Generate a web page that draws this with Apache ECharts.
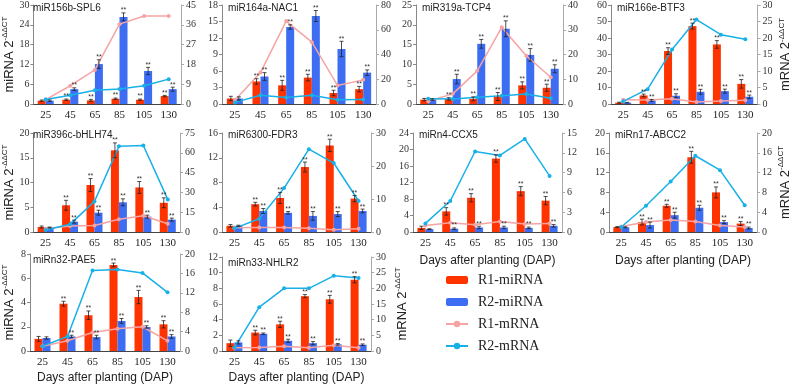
<!DOCTYPE html>
<html>
<head>
<meta charset="utf-8">
<script src="https://cdn.jsdelivr.net/npm/echarts@6/dist/echarts.min.js"></script>
<style>
  html, body { margin: 0; padding: 0; background: #fff; }
  #chart { width: 793px; height: 385px; }
</style>
</head>
<body>
<div id="chart"></div>
<script>
// x categories (days after planting)
var days = ['25', '45', '65', '85', '105', '130'];
var panelNames = ['miR156b-SPL6', 'miR164a-NAC1', 'miR319a-TCP4', 'miR166e-BTF3',
  'miR396c-bHLH74', 'miR6300-FDR3', 'miRn4-CCX5', 'miRn17-ABCC2',
  'miRn32-PAE5', 'miRn33-NHLR2'];

// bars, left axis (miRNA 2^-ddCT)
var r1MiRNA = [
  [1.0, 1.3, 1.1, 1.6, 1.3, 2.4],
  [1.0, 4.1, 3.4, 4.8, 2.0, 2.7],
  [1.1, 1.3, 1.3, 1.9, 4.7, 4.1],
  [0.8, 5.2, 32.1, 47.2, 36.1, 12.2],
  [1.0, 5.4, 9.5, 16.5, 9.0, 5.9],
  [1.0, 4.5, 5.5, 10.5, 14.0, 5.4],
  [1.0, 5.0, 8.3, 17.8, 9.9, 7.6],
  [1.0, 2.0, 5.3, 15.1, 8.0, 1.7],
  [1.0, 3.9, 2.95, 7.1, 4.45, 2.2],
  [1.0, 2.35, 3.4, 7.0, 6.6, 9.1]
];
var r2MiRNA = [
  [1.0, 4.5, 12.1, 26.4, 10.0, 4.5],
  [1.0, 5.0, 14.0, 16.0, 10.0, 5.7],
  [1.1, 6.3, 15.2, 19.0, 12.4, 8.9],
  [0.8, 2.2, 5.0, 7.4, 7.8, 4.4],
  [0.9, 2.1, 3.9, 6.0, 3.1, 2.5],
  [1.0, 3.4, 3.1, 2.6, 2.9, 3.4],
  [0.7, 0.8, 1.1, 1.1, 1.0, 1.5],
  [0.95, 1.4, 3.4, 4.9, 2.0, 0.8],
  [1.07, 1.2, 1.15, 2.48, 1.98, 1.2],
  [1.1, 2.2, 1.3, 1.0, 0.85, 0.8]
];
// error bars of the bars (estimated)
var r1Err = [
  [0.2, 0.2, 0.3, 0.2, 0.2, 0.2],
  [0.4, 0.5, 0.9, 0.6, 0.5, 0.5],
  [0.3, 0.3, 0.5, 1.0, 0.9, 0.9],
  [0.3, 0.8, 2.0, 1.8, 2.3, 2.6],
  [0.2, 1.0, 1.3, 1.5, 1.2, 1.0],
  [0.2, 0.3, 0.9, 0.8, 1.0, 0.5],
  [0.4, 0.9, 1.0, 0.9, 1.1, 1.0],
  [0.1, 0.6, 0.3, 1.2, 1.1, 0.4],
  [0.2, 0.2, 0.35, 0.15, 0.55, 0.3],
  [0.4, 0.3, 0.4, 0.2, 0.5, 0.4]
];
var r2Err = [
  [0.2, 0.4, 1.3, 1.2, 1.1, 0.6],
  [0.3, 0.7, 0.4, 1.0, 1.4, 0.5],
  [0.2, 1.2, 1.1, 2.0, 1.6, 1.0],
  [0.2, 0.6, 1.2, 1.5, 1.2, 1.0],
  [0.1, 0.3, 0.5, 0.7, 0.3, 0.3],
  [0.1, 0.4, 0.2, 0.7, 0.4, 0.3],
  [0.1, 0.2, 0.3, 0.3, 0.2, 0.3],
  [0.1, 0.6, 0.6, 0.5, 0.3, 0.2],
  [0.1, 0.1, 0.15, 0.2, 0.1, 0.15],
  [0.2, 0.1, 0.2, 0.2, 0.1, 0.1]
];
// lines, right axis (mRNA 2^-ddCT)
var r1MRNA = [
  [2.0, 8.3, 15.5, 36.3, 40.0, 40.0],
  [3.0, 25.4, 67.0, 50.0, 15.0, 19.5],
  [1.1, 4.1, 13.4, 31.0, 19.5, 10.8],
  [1.3, 1.2, 1.6, 0.6, 0.9, 1.1],
  [2.5, 4.5, 5.0, 9.6, 12.3, 6.3],
  [1.3, 1.4, 1.4, 1.1, 0.7, 1.0],
  [1.0, 1.4, 1.1, 1.6, 1.2, 1.3],
  [1.1, 2.0, 2.4, 2.1, 1.3, 1.0],
  [1.0, 2.1, 3.8, 4.6, 5.0, 2.1],
  [1.0, 1.1, 1.5, 1.0, 1.8, 1.0]
];
var r2MRNA = [
  [2.0, 4.0, 6.2, 6.8, 8.3, 11.3],
  [1.3, 7.0, 5.3, 7.0, 3.5, 3.7],
  [2.1, 2.0, 2.7, 3.3, 4.0, 2.3],
  [0.8, 4.5, 16.5, 25.6, 21.0, 19.6],
  [1.5, 5.8, 23.2, 65.0, 65.5, 24.7],
  [1.1, 4.0, 13.3, 25.1, 20.9, 9.4],
  [1.3, 4.7, 12.2, 11.6, 14.1, 8.5],
  [1.0, 5.3, 10.2, 15.4, 12.5, 5.4],
  [1.0, 3.0, 16.6, 16.8, 16.1, 12.1],
  [1.1, 14.0, 20.0, 20.0, 24.0, 23.3]
];
// axis scales
var leftMax = [30, 18, 25, 60, 20, 16, 24, 20, 8, 12];
var leftStep = [6, 3, 5, 10, 5, 4, 4, 4, 2, 2];
var rightMax = [45, 80, 40, 30, 75, 30, 15, 20, 20, 30];
var rightStep = [9, 20, 10, 5, 15, 10, 3, 4, 4, 5];

// panel rectangles [left, top, width, height]
var rects = [
  [27, 5, 154, 99], [222, 5, 154, 99], [416, 5, 147, 99], [611, 5, 147, 99],
  [27, 133, 153, 99], [222, 133, 149, 99], [413, 133, 149, 99], [609, 133, 148, 99],
  [27, 254, 153, 103], [222, 257, 149, 100]
];
var leftNamed = [0, 4, 8];
var rightNamed = [3, 7, 9];
var xNamed = [6, 7, 8, 9];

var serif = '"Liberation Serif", "Times New Roman", serif';
var sans = '"Liberation Sans", Arial, sans-serif';
var red = '#ff3300', blue = '#3d6df2', pink = '#f6a3a3', cyan = '#17b0e8';
var barW = 8;

var nameRich = {
  a: { fontFamily: sans, fontSize: 13, color: '#222', lineHeight: 16 },
  b: { fontFamily: sans, fontSize: 8, color: '#222', verticalAlign: 'top', lineHeight: 9 }
};

// error bar + "**" drawn with a custom series, shifted to the bar's centre
function errRender(offset) {
  return function (params, api) {
    var idx = api.value(0), v = api.value(1), e = api.value(2);
    var top = api.coord([idx, v + e]);
    var bot = api.coord([idx, Math.max(v - e, 0)]);
    var cx = top[0] + offset;
    var st = { stroke: '#222', lineWidth: 0.8 };
    var kids = [
      { type: 'line', shape: { x1: cx, y1: top[1], x2: cx, y2: bot[1] }, style: st },
      { type: 'line', shape: { x1: cx - 2, y1: top[1], x2: cx + 2, y2: top[1] }, style: st },
      { type: 'line', shape: { x1: cx - 2, y1: bot[1], x2: cx + 2, y2: bot[1] }, style: st }
    ];
    if (idx > 0) {
      kids.push({ type: 'text', style: { text: '**', x: cx, y: top[1] + 1, align: 'center',
        verticalAlign: 'bottom', fontSize: 7, fill: '#333' } });
    }
    return { type: 'group', children: kids };
  };
}

var grids = [], xAxes = [], yAxes = [], series = [], titles = [];

for (var i = 0; i < rects.length; i++) {
  var r = rects[i];
  grids.push({ left: r[0], top: r[1], width: r[2], height: r[3] });
  titles.push({
    text: panelNames[i], left: r[0] + 6, top: r[1] + (i >= 8 ? 1 : (i < 4 ? -2 : -3)), padding: 0,
    textStyle: { fontFamily: sans, fontSize: 10, fontWeight: 'normal', color: '#222' }
  });
  xAxes.push({
    type: 'category', gridIndex: i, data: days,
    axisLine: { lineStyle: { color: '#444' } },
    axisTick: { lineStyle: { color: '#444' } },
    axisLabel: { fontFamily: serif, fontSize: 11, color: '#222', margin: 6 },
    name: xNamed.indexOf(i) >= 0 ? 'Days after planting (DAP)' : '',
    nameLocation: 'middle', nameGap: i >= 8 ? 21 : 23,
    nameTextStyle: { fontFamily: sans, fontSize: 12, color: '#222' }
  });
  yAxes.push({
    type: 'value', gridIndex: i, position: 'left', min: 0, max: leftMax[i], interval: leftStep[i],
    splitLine: { show: false },
    axisLine: { show: true, lineStyle: { color: '#888' } },
    axisTick: { show: true, length: 3, lineStyle: { color: '#888' } },
    axisLabel: { fontFamily: serif, fontSize: 10, color: '#333', margin: 4 },
    name: leftNamed.indexOf(i) >= 0 ? '{a|miRNA 2}{b|-ΔΔCT}' : '',
    nameLocation: 'middle', nameGap: 13, nameRotate: 90,
    nameTextStyle: { rich: nameRich }
  });
  yAxes.push({
    type: 'value', gridIndex: i, position: 'right', min: 0, max: rightMax[i], interval: rightStep[i],
    splitLine: { show: false },
    axisLine: { show: true, lineStyle: { color: '#aaa' } },
    axisTick: { show: true, length: 3, lineStyle: { color: '#aaa' } },
    axisLabel: { fontFamily: serif, fontSize: 10, color: '#333', margin: 5 },
    name: rightNamed.indexOf(i) >= 0 ? '{a|mRNA 2}{b|-ΔΔCT}' : '',
    nameLocation: 'middle', nameGap: i === 9 ? 23 : 20, nameRotate: 90,
    nameTextStyle: { rich: nameRich }
  });
  series.push({
    name: 'R1-miRNA', type: 'bar', xAxisIndex: i, yAxisIndex: 2 * i,
    data: r1MiRNA[i], barWidth: barW, barGap: '0%',
    itemStyle: { color: red }
  });
  series.push({
    name: 'R2-miRNA', type: 'bar', xAxisIndex: i, yAxisIndex: 2 * i,
    data: r2MiRNA[i], barWidth: barW, barGap: '0%',
    itemStyle: { color: blue }
  });
  series.push({
    name: 'R1-mRNA', type: 'line', xAxisIndex: i, yAxisIndex: 2 * i + 1,
    data: r1MRNA[i], symbol: 'circle', symbolSize: 4,
    lineStyle: { color: pink, width: 1.5 }, itemStyle: { color: pink }
  });
  series.push({
    name: 'R2-mRNA', type: 'line', xAxisIndex: i, yAxisIndex: 2 * i + 1,
    data: r2MRNA[i], symbol: 'circle', symbolSize: 4,
    lineStyle: { color: cyan, width: 1.5 }, itemStyle: { color: cyan }
  });
  series.push({
    type: 'custom', xAxisIndex: i, yAxisIndex: 2 * i, z: 5,
    renderItem: errRender(-barW / 2), encode: { x: 0, y: 1 },
    data: r1MiRNA[i].map(function (v, k) { return [k, v, r1Err[this][k]]; }, i)
  });
  series.push({
    type: 'custom', xAxisIndex: i, yAxisIndex: 2 * i, z: 5,
    renderItem: errRender(barW / 2), encode: { x: 0, y: 1 },
    data: r2MiRNA[i].map(function (v, k) { return [k, v, r2Err[this][k]]; }, i)
  });
}

var chart = echarts.init(document.getElementById('chart'), null, { renderer: 'canvas' });
chart.setOption({
  animation: false,
  title: titles,
  grid: grids,
  xAxis: xAxes,
  yAxis: yAxes,
  legend: {
    orient: 'vertical', left: 445, top: 273, padding: 0,
    itemWidth: 22, itemHeight: 8, itemGap: 8,
    textStyle: { fontFamily: serif, fontSize: 14, color: '#222', padding: [0, 0, 0, 5] },
    data: ['R1-miRNA', 'R2-miRNA', 'R1-mRNA', 'R2-mRNA']
  },
  series: series
});
</script>
</body>
</html>
